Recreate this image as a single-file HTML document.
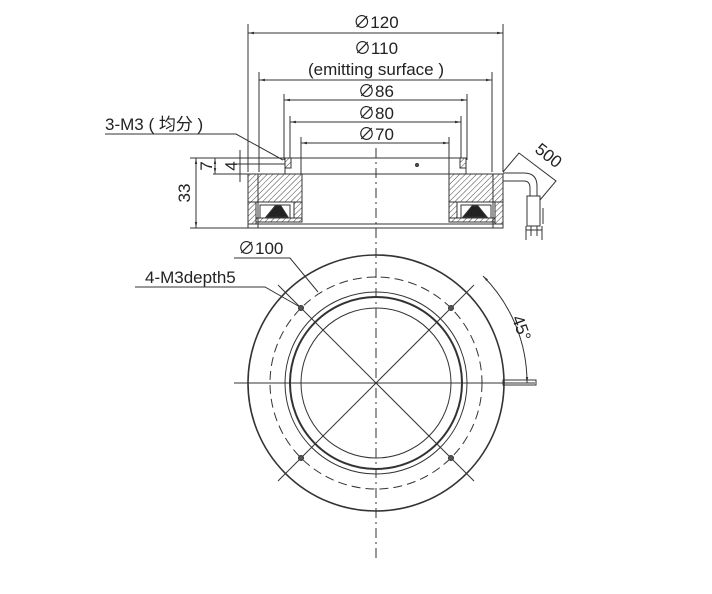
<!DOCTYPE html>
<html><head><meta charset="utf-8"><style>
html,body{margin:0;padding:0;background:#fff;}
svg{display:block;}
text{font-family:"Liberation Sans","Noto Sans CJK SC",sans-serif;fill:#222;}
</style></head><body>
<svg width="712" height="594" viewBox="0 0 712 594" xmlns="http://www.w3.org/2000/svg">
<defs>
<pattern id="h" width="4" height="4" patternUnits="userSpaceOnUse" patternTransform="rotate(45)">
<rect width="4" height="4" fill="#fff"/><line x1="0" y1="0" x2="0" y2="4" stroke="#444" stroke-width="1"/>
</pattern>
<marker id="a" viewBox="0 0 10 10" refX="10" refY="5" markerWidth="6" markerHeight="6" orient="auto-start-reverse"><path d="M0,3 L10,5 L0,7z" fill="#333"/></marker>
</defs>
<g stroke="#333" stroke-width="1" fill="none">
<line x1="248" y1="24" x2="248" y2="172"/><line x1="503" y1="24" x2="503" y2="172"/>
<line x1="259" y1="72" x2="259" y2="172"/><line x1="492" y1="72" x2="492" y2="172"/>
<line x1="284" y1="94" x2="284" y2="160"/><line x1="467" y1="94" x2="467" y2="160"/>
<line x1="290" y1="116" x2="290" y2="160"/><line x1="461" y1="116" x2="461" y2="160"/>
<line x1="301" y1="137" x2="301" y2="174"/><line x1="449" y1="137" x2="449" y2="174"/>
<line x1="248" y1="33" x2="503" y2="33" marker-start="url(#a)" marker-end="url(#a)"/>
<line x1="259" y1="80" x2="492" y2="80" marker-start="url(#a)" marker-end="url(#a)"/>
<line x1="284" y1="100" x2="467" y2="100" marker-start="url(#a)" marker-end="url(#a)"/>
<line x1="290" y1="122" x2="461" y2="122" marker-start="url(#a)" marker-end="url(#a)"/>
<line x1="301" y1="143" x2="449" y2="143" marker-start="url(#a)" marker-end="url(#a)"/>
<rect x="285" y="158" width="181" height="16"/>
<rect x="285" y="158" width="6" height="10" fill="url(#h)"/>
<rect x="460" y="158" width="6" height="10" fill="url(#h)"/>
<circle cx="417" cy="165" r="1.5" fill="#555"/>
<rect x="248" y="174" width="54" height="28" fill="url(#h)"/>
<rect x="449" y="174" width="54" height="28" fill="url(#h)"/>
<rect x="248" y="174" width="255" height="54"/>
<rect x="248" y="202" width="8" height="22" fill="url(#h)"/>
<rect x="495" y="202" width="8" height="22" fill="url(#h)"/>
<rect x="256" y="218" width="46" height="4" fill="url(#h)"/>
<rect x="449" y="218" width="46" height="4" fill="url(#h)"/>
<rect x="294" y="202" width="8" height="16" fill="url(#h)"/>
<rect x="449" y="202" width="8" height="16" fill="url(#h)"/>
<rect x="260" y="205" width="30" height="13"/>
<rect x="461" y="205" width="30" height="13"/>
<path d="M266,217 L275,206 L281,206 L288,217z" fill="#222"/>
<path d="M463,217 L472,206 L478,206 L487,217z" fill="#222"/>
<line x1="248" y1="224" x2="503" y2="224"/>
<line x1="258" y1="174" x2="258" y2="228"/><line x1="493" y1="174" x2="493" y2="228"/>
<line x1="190" y1="158" x2="285" y2="158"/>
<line x1="190" y1="228" x2="248" y2="228"/>
<line x1="196" y1="158" x2="196" y2="228" marker-start="url(#a)" marker-end="url(#a)"/>
<line x1="213" y1="174" x2="248" y2="174"/>
<line x1="225" y1="164" x2="285" y2="164"/>
<line x1="215" y1="158" x2="215" y2="174" marker-start="url(#a)" marker-end="url(#a)"/>
<line x1="240" y1="150" x2="240" y2="182"/>
<path d="M105,134 L236,134 L283,160"/>
<path d="M135,287 L265,287 L300,307"/>
<path d="M234,258 L290,258 L318,292"/>
<path d="M503,173 L524,173 Q537,173 537,186 L537,196"/>
<path d="M503,181 L524,181 Q530,181 530,188 L530,196"/>
<rect x="527" y="196" width="13" height="30"/>
<path d="M526,226 L526,240 M531,226 L531,236 M537,226 L537,236 M542,226 L542,240 M526,230 L542,230"/>
<line x1="543" y1="208" x2="543" y2="224"/>
<path d="M503,172 L519,153 L556,181 L540,200"/>
<line x1="376" y1="148" x2="376" y2="560" stroke-dasharray="10,4,2,4"/>
<circle cx="376" cy="383" r="128" stroke-width="1.6"/>
<circle cx="376" cy="383" r="106" stroke-dasharray="9,5"/>
<circle cx="376" cy="383" r="91"/>
<circle cx="376" cy="383" r="86" stroke-width="2"/>
<circle cx="376" cy="383" r="75"/>
<line x1="234" y1="383" x2="535" y2="383"/>
<line x1="278" y1="285" x2="474" y2="481"/>
<line x1="474" y1="285" x2="278" y2="481"/>
<circle cx="301" cy="308" r="2.5" fill="#555"/><circle cx="451" cy="308" r="2.5" fill="#555"/>
<circle cx="301" cy="458" r="2.5" fill="#555"/><circle cx="451" cy="458" r="2.5" fill="#555"/>
<path d="M483,276 A151,151 0 0 1 527,383" marker-start="url(#a)" marker-end="url(#a)"/>
<rect x="503" y="380" width="33" height="5"/>
</g>
<g font-size="17" text-anchor="middle">
<text x="376" y="28">∅120</text>
<text x="376" y="54">∅110</text>
<text x="376" y="75">(emitting surface )</text>
<text x="376" y="97">∅86</text>
<text x="376" y="119">∅80</text>
<text x="376" y="140">∅70</text>
</g>
<g font-size="17">
<text x="105" y="130">3-M3 ( 均分 )</text>
<text x="145" y="283">4-M3depth5</text>
<text x="238" y="254">∅100</text>
<text transform="translate(190,193) rotate(-90)" text-anchor="middle">33</text>
<text transform="translate(212,166) rotate(-90)" text-anchor="middle">7</text>
<text transform="translate(237,166) rotate(-90)" text-anchor="middle">4</text>
<text transform="translate(545,160) rotate(38)" text-anchor="middle">500</text>
<text transform="translate(516,330) rotate(70)" text-anchor="middle">45°</text>
</g>
</svg>
</body></html>
